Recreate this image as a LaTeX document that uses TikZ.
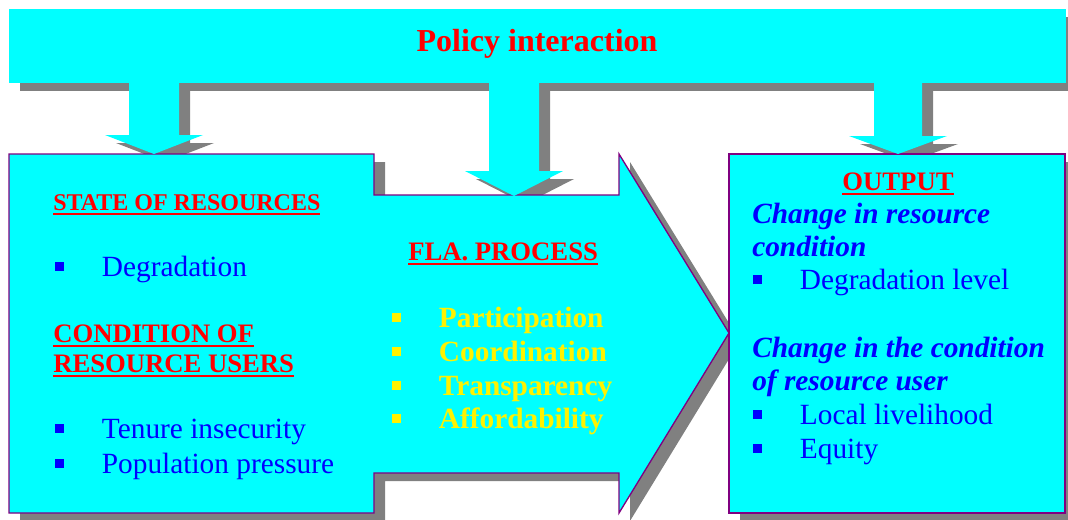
\documentclass[tikz,border=0pt]{standalone}
\usepackage{fontspec}
\setmainfont{Liberation Serif}

\definecolor{aqua}{HTML}{00FFFF}
\definecolor{framecol}{HTML}{800080}
\definecolor{shadowgray}{HTML}{808080}

\newcommand\ulhead[1]{\setbox0\hbox{#1}\rlap{\rule[-3.6pt]{\wd0}{1.6pt}}\box0}
\newcommand\sqbul{\makebox[35pt][l]{\rule[4pt]{6.5pt}{6.5pt}}}

% outlines of the big shapes, used twice (shadow and face)
\newcommand\bannerpath{(9,9) rectangle (1066,83)}
\newcommand\arrowleft{(129,80) -- (129,135) -- (105,135) -- (154,154) -- (203,135) -- (179,135) -- (179,80) -- cycle}
\newcommand\arrowmid{(489,80) -- (489,171) -- (465,171) -- (514,196) -- (563,171) -- (539,171) -- (539,80) -- cycle}
\newcommand\arrowright{(874,80) -- (874,136) -- (849,136) -- (898,154) -- (947,136) -- (922,136) -- (922,80) -- cycle}
\newcommand\flapath{(9,154) -- (374,154) -- (374,195) -- (619,195) -- (619,154) -- (729,333) -- (619,513) -- (619,473) -- (374,473) -- (374,513) -- (9,513) -- cycle}
\newcommand\outpath{(729,154) rectangle (1065,513)}

\begin{document}
\begin{tikzpicture}[x=0.75pt, y=-0.75pt,
        panel/.style = {fill=aqua, draw=framecol, line width=1pt},
        plate/.style = {fill=aqua},
        dropshadow/.style = {fill=shadowgray},
        title/.style = {text=red, font=\bfseries\fontsize{24}{28}\selectfont, inner sep=0pt, anchor=base},
        heading/.style = {text=red, font=\bfseries\fontsize{20}{24}\selectfont, inner sep=0pt, anchor=base west},
        item/.style = {text=blue, font=\fontsize{22}{26}\selectfont, inner sep=0pt, anchor=base west},
        fla/.style = {item, text=yellow, font=\bfseries\fontsize{22}{26}\selectfont},
        change/.style = {item, font=\bfseries\itshape\fontsize{22}{26}\selectfont},
        ]
        \useasboundingbox (0,0) rectangle (1068,519);

        % shadows
        \begin{scope}[shift={(11,8)}]
            \path[dropshadow] \bannerpath;
            \path[dropshadow] \arrowleft;
            \path[dropshadow] \arrowmid;
            \path[dropshadow] \arrowright;
            \path[dropshadow] \flapath;
            \path[dropshadow] \outpath;
        \end{scope}

        \path[plate] \bannerpath;
        \path[panel] \flapath;
        \path[panel] \outpath;
        \path[plate] \arrowleft;
        \path[plate] \arrowmid;
        \path[plate] \arrowright;

        \node [title] (policy) at (537,51) {Policy interaction};

        \node [heading, font=\bfseries\fontsize{18}{22}\selectfont] (state) at (53,210) {\ulhead{STATE OF RESOURCES}};
        \node [item] (degr) at (55,276) {\sqbul Degradation};
        \node [heading] (cond1) at (53,342) {\ulhead{CONDITION OF}};
        \node [heading] (cond2) at (53,372) {\ulhead{RESOURCE USERS}};
        \node [item] (tenure) at (55,438) {\sqbul Tenure insecurity};
        \node [item] (popul) at (55,473) {\sqbul Population pressure};

        \node [heading] (process) at (408,260) {\ulhead{FLA. PROCESS}};
        \node [fla] (partic) at (392,327) {\sqbul Participation};
        \node [fla] (coord) at (392,361) {\sqbul Coordination};
        \node [fla] (transp) at (392,395) {\sqbul Transparency};
        \node [fla] (afford) at (392,428) {\sqbul Affordability};

        \node [heading, anchor=base] (output) at (898,190) {\ulhead{OUTPUT}};
        \node [change] (chres1) at (752,223) {Change in resource};
        \node [change] (chres2) at (752,256) {condition};
        \node [item] (level) at (753,289) {\sqbul Degradation level};
        \node [change] (chuser1) at (752,357) {Change in the condition};
        \node [change] (chuser2) at (752,390) {of resource user};
        \node [item] (liveli) at (753,424) {\sqbul Local livelihood};
        \node [item] (equity) at (753,458) {\sqbul Equity};

    \end{tikzpicture}
\end{document}
